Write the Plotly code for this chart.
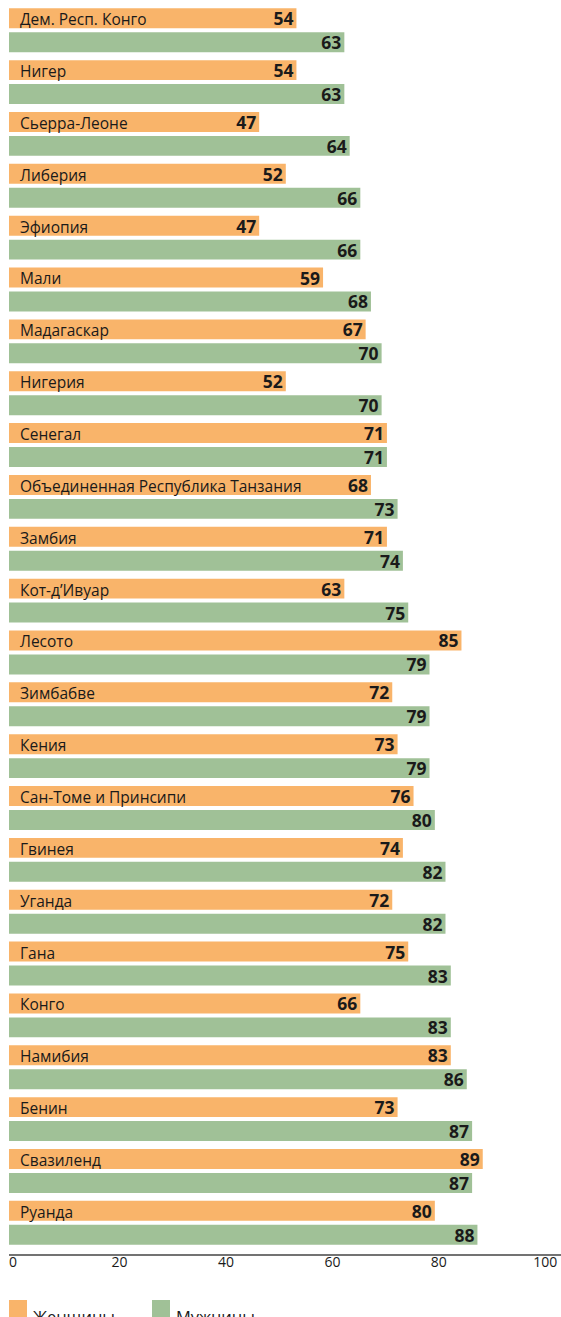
import plotly.graph_objects as go

countries = [
    "Дем. Респ. Конго", "Нигер", "Сьерра-Леоне", "Либерия", "Эфиопия", "Мали",
    "Мадагаскар", "Нигерия", "Сенегал", "Объединенная Республика Танзания",
    "Замбия", "Кот-д’Ивуар", "Лесото", "Зимбабве", "Кения",
    "Сан-Томе и Принсипи", "Гвинея", "Уганда", "Гана", "Конго", "Намибия",
    "Бенин", "Свазиленд", "Руанда",
]
women = [54, 54, 47, 52, 47, 59, 67, 52, 71, 68, 71, 63, 85, 72, 73, 76, 74, 72, 75, 66, 83, 73, 89, 80]
men = [63, 63, 64, 66, 66, 68, 70, 70, 71, 73, 74, 75, 79, 79, 79, 80, 82, 82, 83, 83, 86, 87, 87, 88]
x_ticks = [0, 20, 40, 60, 80, 100]

ORANGE = "#F9B46A"
GREEN = "#A0C197"
TEXT = "#1a1a1a"
FONT = "Open Sans"

W, H = 561, 1317
PLOT_L, PLOT_T, PLOT_B = 9, 0, 1252  # pixel edges of the plot area
AXIS_LINE_Y = 1255

idx = list(range(len(countries)))

fig = go.Figure()
for vals, color, name in [(women, ORANGE, "Женщины"), (men, GREEN, "Мужчины")]:
    fig.add_trace(go.Bar(
        y=idx, x=vals, orientation="h", name=name,
        marker=dict(color=color, line=dict(width=0)),
        texttemplate="<b>%{x}</b>", textposition="inside", insidetextanchor="end",
        constraintext="none", textangle=0,
        textfont=dict(family=FONT, size=17.5, color=TEXT),
        hoverinfo="skip",
    ))

# country names sit inside the orange bar, left aligned
annotations = []
for i, name in enumerate(countries):
    annotations.append(dict(
        x=0, y=i, xref="x", yref="y", text=name, showarrow=False,
        xanchor="left", yanchor="middle", xshift=9, yshift=11,
        font=dict(family=FONT, size=15.5, color=TEXT),
    ))

def py(p):
    return (PLOT_B - p) / (PLOT_B - PLOT_T)

def px(p):
    return (p - PLOT_L) / (W - PLOT_L)

# baseline a little below the plot area, tick labels sit just under it
shapes = [dict(type="line", xref="paper", yref="paper", x0=0, x1=1,
               y0=py(AXIS_LINE_Y), y1=py(AXIS_LINE_Y),
               line=dict(color="#444444", width=1.5))]

# hand-drawn legend under the axis
for x0, color, label in [(9, ORANGE, "Женщины"), (152, GREEN, "Мужчины")]:
    shapes.append(dict(type="rect", xref="paper", yref="paper",
                       x0=px(x0), x1=px(x0 + 18), y0=py(1300), y1=py(1320),
                       fillcolor=color, line=dict(width=0)))
    annotations.append(dict(
        x=px(x0 + 22), y=py(1316), xref="paper", yref="paper", text=label,
        showarrow=False, xanchor="left", yanchor="middle",
        font=dict(family=FONT, size=16.5, color=TEXT),
    ))

fig.update_layout(
    width=W, height=H,
    margin=dict(l=PLOT_L, r=0, t=PLOT_T, b=H - PLOT_B, pad=0),
    paper_bgcolor="white", plot_bgcolor="white",
    barmode="group", bargap=4 / 52, bargroupgap=1 / 6,
    showlegend=False,
    annotations=annotations, shapes=shapes,
    font=dict(family=FONT, color=TEXT),
)
fig.update_xaxes(
    range=[0, 103.7], tickvals=x_ticks, showgrid=False, zeroline=False,
    showline=False, ticks="", ticklabelshift=4,
    tickfont=dict(family=FONT, size=14, color=TEXT),
)
fig.update_yaxes(
    range=[23.563, -0.583], showticklabels=False, showgrid=False,
    zeroline=False, showline=False,
)

# drop the default page margin so the figure fills the window exactly
fig.write_html(
    "out.html",
    config={"displayModeBar": False},
    post_script="document.body.style.margin='0';document.body.style.overflow='hidden';",
)
